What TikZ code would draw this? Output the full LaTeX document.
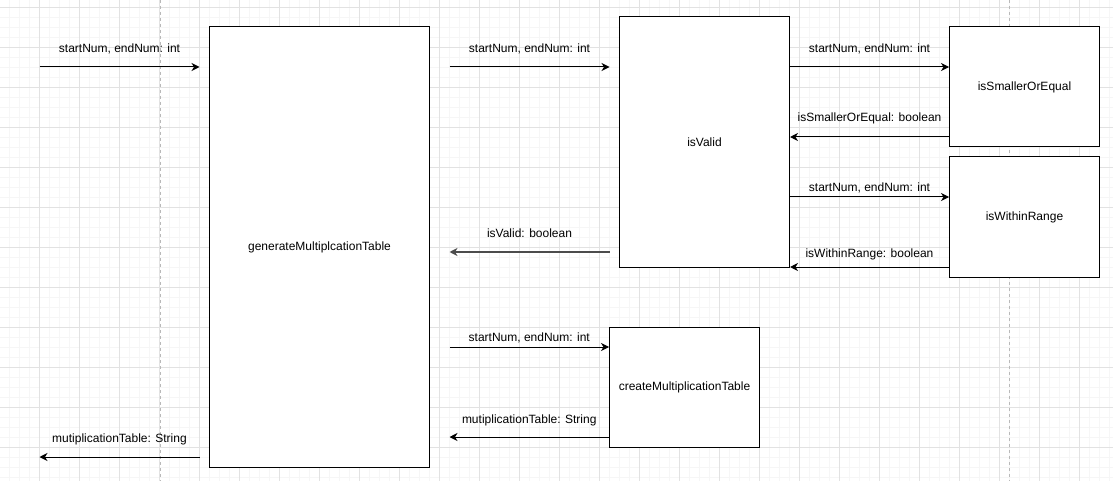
\documentclass[tikz,border=0pt]{standalone}
\usepackage{fontspec}
\setmainfont{Liberation Sans}
\usetikzlibrary{arrows.meta}

\definecolor{gridminor}{RGB}{246,246,246}
\definecolor{gridmajor}{RGB}{226,226,226}
\definecolor{pagebreak}{RGB}{185,185,185}

\begin{document}
\begin{tikzpicture}[x=1pt,y=-1pt]
	
	\tikzset{box/.style = {shape=rectangle,draw,line width=1pt,fill=white,inner sep=0pt,font=\fontsize{12}{14}\selectfont}}
	\tikzset{edge/.style = {->,> = {Stealth[length=8pt,width=8pt,inset=2.5pt]},line width=1pt}}
	\tikzset{lbl/.style = {midway,anchor=base,inner sep=0pt,font=\fontsize{12}{14}\selectfont}}
	
	\useasboundingbox (0,0) rectangle (1113,481);
	\fill[white] (0,0) rectangle (1113,481);
	
	% background grid
	\foreach \i in {0,...,110} \draw[gridminor,line width=1pt] (9.5+10*\i,0) -- (9.5+10*\i,481);
	\foreach \i in {0,...,47} \draw[gridminor,line width=1pt] (0,7.5+10*\i) -- (1113,7.5+10*\i);
	\foreach \i in {0,...,27} \draw[gridmajor,line width=1pt] (39.5+40*\i,0) -- (39.5+40*\i,481);
	\foreach \i in {0,...,11} \draw[gridmajor,line width=1pt] (0,7.5+40*\i) -- (1113,7.5+40*\i);
	\foreach \x in {160,1009} \draw[pagebreak,line width=1pt,dash pattern=on 3pt off 3pt] (\x,0) -- (\x,481);
	
	% boxes
	\node[box,minimum width=220pt,minimum height=440pt] (gen) at (319.5,247) {generateMultiplcationTable};
	\node[box,minimum width=170pt,minimum height=250pt] (valid) at (704.5,142) {isValid};
	\node[box,minimum width=150pt,minimum height=120pt] (smaller) at (1024.5,87) {isSmallerOrEqual};
	\node[box,minimum width=150pt,minimum height=120pt] (within) at (1024.5,217) {isWithinRange};
	\node[box,minimum width=150pt,minimum height=120pt] (create) at (684.5,387) {createMultiplicationTable};
	
	% free ends
	\coordinate (inA) at (39.5,67);
	\coordinate (inB) at (199.5,67);
	\coordinate (outA) at (199.5,457);
	\coordinate (outB) at (39.5,457);
	\coordinate (chkA) at (449.5,67);
	\coordinate (chkB) at (609.5,67);
	\coordinate (resA) at (609.5,252);
	\coordinate (resB) at (449.5,252);
	\coordinate (mkA) at (449.5,347);
	\coordinate (tabB) at (449.5,437);
	\coordinate (y1) at (0,67);
	\coordinate (y2) at (0,137);
	\coordinate (y3) at (0,197);
	\coordinate (y4) at (0,267);
	
	\draw[edge] (inA) -- (inB) node[lbl,yshift=14.5pt] {startNum, endNum: int};
	\draw[edge] (outA) -- (outB) node[lbl,yshift=15pt] {mutiplicationTable: String};
	\draw[edge] (chkA) -- (chkB) node[lbl,yshift=14.5pt] {startNum, endNum: int};
	\draw[edge,draw=black!70,line width=1.5pt] (resA) -- (resB) node[lbl,yshift=14.5pt,text=black] {isValid: boolean};
	\draw[edge] (valid.east |- y1) -- (smaller.west |- y1) node[lbl,yshift=14.5pt] {startNum, endNum: int};
	\draw[edge] (smaller.west |- y2) -- (valid.east |- y2) node[lbl,yshift=15pt] {isSmallerOrEqual: boolean};
	\draw[edge] (valid.east |- y3) -- (within.west |- y3) node[lbl,yshift=5.5pt] {startNum, endNum: int};
	\draw[edge] (within.west |- y4) -- (valid.east |- y4) node[lbl,yshift=10pt] {isWithinRange: boolean};
	\draw[edge] (mkA) -- (mkA -| create.west) node[lbl,yshift=5.5pt] {startNum, endNum: int};
	\draw[edge] (tabB -| create.west) -- (tabB) node[lbl,yshift=13.5pt] {mutiplicationTable: String};
	
\end{tikzpicture}
\end{document}
